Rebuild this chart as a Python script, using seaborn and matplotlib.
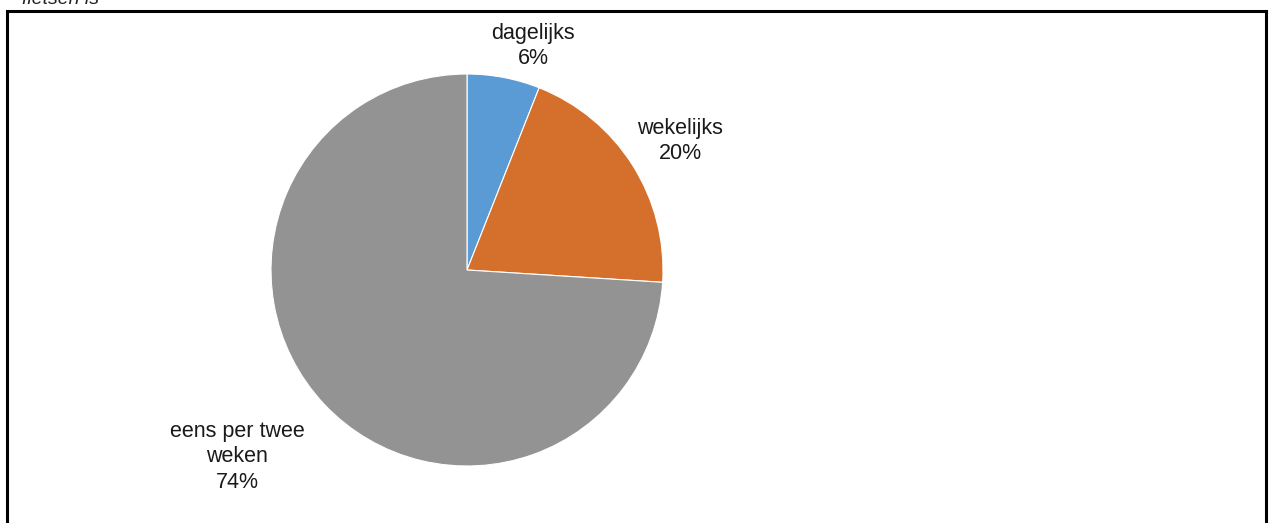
import matplotlib
matplotlib.use("Agg")
import matplotlib.pyplot as plt
import seaborn as sns

# Share of respondents by cycling frequency
categories = ["dagelijks", "wekelijks", "eens per twee\nweken"]
shares = [6, 20, 74]
colors = ["#5B9BD5", "#D5702C", "#939393"]

sns.set_theme(style="white")
plt.rcParams["font.family"] = ["Liberation Sans", "DejaVu Sans"]

W, H = 1270, 523
fig = plt.figure(figsize=(W / 100, H / 100), dpi=100)
ax = fig.add_axes([0, 0, 1, 1])

# frame around the chart (open at the bottom)
ax.plot([7, 7, 1266, 1266], [-5, H - 11, H - 11, -5], color="black", lw=2.2,
        solid_joinstyle="miter")

# heading, mostly cropped at the top edge
ax.text(22, H + 1, "fietsen is", fontsize=14, style="italic", color="#222222",
        ha="left", va="center")

ax.pie(shares, colors=colors, startangle=90, counterclock=False,
       center=(467, H - 270), radius=196,
       wedgeprops=dict(linewidth=0.8, edgecolor="white"))
ax.set_xlim(0, W)
ax.set_ylim(0, H)
ax.set_aspect("equal")
ax.axis("off")

label_pos = [(533, H - 46), (680, H - 141), (237, H - 457)]
for cat, val, (lx, ly) in zip(categories, shares, label_pos):
    ax.text(lx, ly, f"{cat}\n{val}%", ha="center", va="center", fontsize=15.5,
            color="#1a1a1a", linespacing=1.3)

fig.savefig("out.png", dpi=100, facecolor="white")
